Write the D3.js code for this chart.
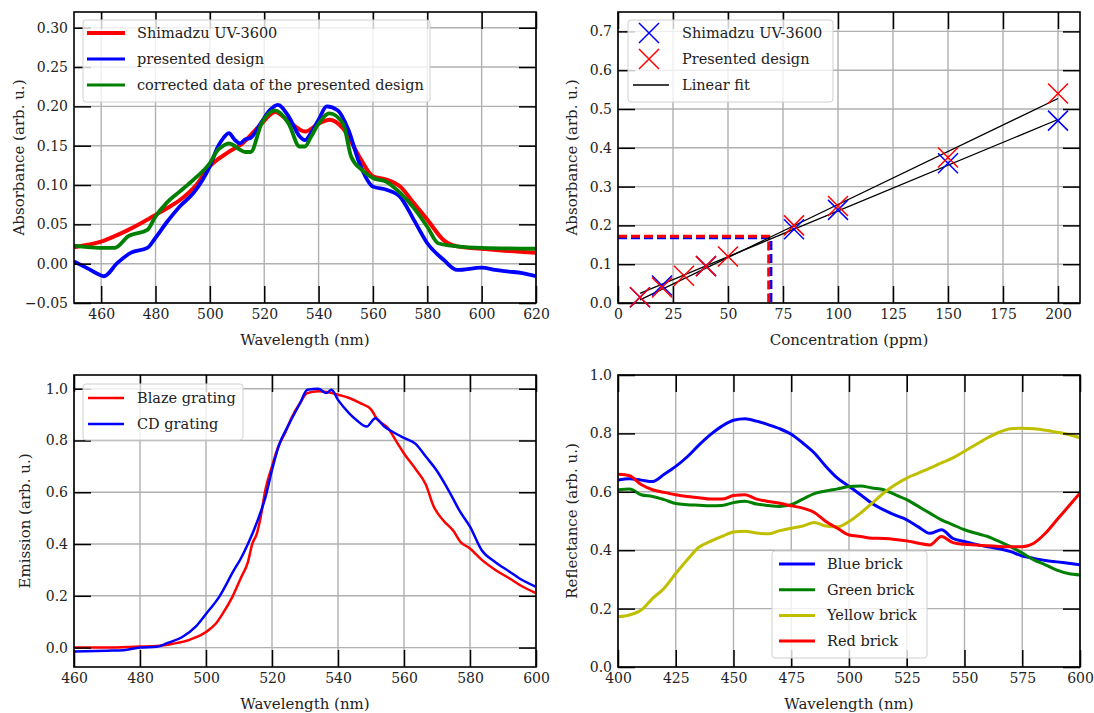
<!DOCTYPE html>
<html>
<head>
<meta charset="utf-8">
<script src="https://cdn.jsdelivr.net/npm/d3@7"></script>
<style>
  body { margin: 0; background: #fff; }
  svg text { font-family: "DejaVu Serif", "Liberation Serif", "Times New Roman", serif; }
</style>
</head>
<body>
<svg id="fig" width="1094" height="713"></svg>
<script>
// ---- panel (a): absorbance spectra ----
const absWlRed = [450, 455, 460, 465, 470, 475, 480, 485, 489, 495, 500, 506, 512, 519, 524, 529, 535, 540, 544, 549, 555, 560, 565, 570, 575, 580, 586, 591, 600, 610, 620];
const absRed = [0.021, 0.024, 0.028, 0.035, 0.043, 0.052, 0.062, 0.072, 0.081, 0.100, 0.124, 0.140, 0.153, 0.178, 0.193, 0.181, 0.168, 0.178, 0.183, 0.172, 0.136, 0.111, 0.107, 0.098, 0.077, 0.056, 0.030, 0.022, 0.019, 0.016, 0.014];
const absWlBlue = [450, 455, 460, 461, 466, 471, 477, 480, 484, 489, 494, 500, 503, 505, 507, 509, 511, 513, 515, 519, 522, 525, 529, 533, 535, 537, 540, 543, 547, 551, 555, 560, 565, 570, 575, 580, 586, 591, 600, 605, 610, 615, 620];
const absBlue = [0.003, -0.006, -0.015, -0.016, 0.001, 0.014, 0.020, 0.033, 0.052, 0.073, 0.090, 0.124, 0.149, 0.160, 0.166, 0.158, 0.153, 0.158, 0.160, 0.180, 0.195, 0.202, 0.187, 0.162, 0.157, 0.165, 0.183, 0.200, 0.195, 0.170, 0.128, 0.098, 0.094, 0.085, 0.056, 0.026, 0.005, -0.008, -0.005, -0.008, -0.010, -0.012, -0.016];
const absWlGreen = [450, 455, 460, 465, 470, 477, 480, 484, 489, 494, 500, 503, 505, 507, 509, 511, 513, 515, 519, 524, 529, 533, 535, 537, 540, 544, 549, 552, 556, 560, 565, 570, 575, 580, 584, 591, 600, 620];
const absGreen = [0.023, 0.021, 0.020, 0.020, 0.035, 0.043, 0.060, 0.077, 0.092, 0.107, 0.128, 0.145, 0.150, 0.153, 0.150, 0.145, 0.142, 0.142, 0.178, 0.195, 0.178, 0.149, 0.149, 0.160, 0.178, 0.191, 0.178, 0.136, 0.119, 0.109, 0.104, 0.090, 0.071, 0.047, 0.026, 0.022, 0.020, 0.019];

// ---- panel (b): calibration ----
const concShimadzu = [10, 20, 40, 80, 100, 150, 200];
const absShimadzu = [0.015, 0.045, 0.095, 0.19, 0.24, 0.36, 0.47];
const concDesign = [10, 20, 30, 40, 50, 80, 100, 150, 200];
const absDesign = [0.015, 0.04, 0.07, 0.095, 0.12, 0.20, 0.25, 0.375, 0.54];
const fitShimadzu = [[10, 0.025], [200, 0.473]];
const fitDesign = [[10, 0.008], [200, 0.527]];
const readBlue = [[0, 0.168], [69.5, 0.168], [69.5, 0]];
const readRed = [[0, 0.172], [68.5, 0.172], [68.5, 0]];

// ---- panel (c): emission ----
const emWlBlaze = [460, 470, 480, 485, 490, 495, 500, 503, 505, 508, 510.6, 512.7, 514, 515.4, 516.5, 518, 520, 522, 524, 526, 528.5, 530.7, 534, 537, 540, 543.4, 546.6, 550, 552, 555, 558, 560, 563.5, 566.6, 569, 572, 575, 577, 580, 583.5, 587.7, 592, 596, 600];
const emBlaze = [0.0, 0.0, 0.004, 0.006, 0.015, 0.03, 0.06, 0.093, 0.13, 0.196, 0.27, 0.33, 0.40, 0.44, 0.50, 0.61, 0.70, 0.78, 0.83, 0.89, 0.945, 0.983, 0.99, 0.986, 0.977, 0.964, 0.945, 0.92, 0.88, 0.85, 0.79, 0.75, 0.69, 0.63, 0.545, 0.49, 0.45, 0.41, 0.383, 0.34, 0.30, 0.267, 0.235, 0.21];
const emWlCD = [460, 470, 475, 480, 485, 488.4, 492.7, 496.8, 500, 504, 508.5, 510.6, 512.7, 515.9, 518, 520, 522, 525.3, 528.5, 530.7, 534, 536.5, 538, 540, 543.4, 545.5, 548.7, 551.3, 554, 557, 560, 563.5, 566.6, 569.8, 574, 577, 580, 583.5, 587.7, 592, 595, 600];
const emCD = [-0.015, -0.012, -0.01, 0.0, 0.003, 0.018, 0.04, 0.08, 0.13, 0.196, 0.30, 0.345, 0.40, 0.50, 0.58, 0.686, 0.777, 0.867, 0.944, 0.996, 1.0, 0.983, 0.996, 0.957, 0.905, 0.88, 0.854, 0.886, 0.854, 0.83, 0.81, 0.787, 0.738, 0.686, 0.596, 0.525, 0.467, 0.377, 0.33, 0.293, 0.267, 0.235];

// ---- panel (d): reflectance ----
const refWl = [400, 405, 410, 415, 420, 425, 430, 435, 440, 445, 450, 455, 460, 465, 470, 475, 480, 485, 490, 495, 500, 505, 510, 515, 520, 525, 530, 535, 540, 545, 550, 555, 560, 565, 570, 575, 580, 585, 590, 595, 600];
const refBlue = [0.64, 0.645, 0.64, 0.635, 0.66, 0.687, 0.72, 0.76, 0.796, 0.825, 0.845, 0.850, 0.842, 0.83, 0.816, 0.797, 0.767, 0.733, 0.687, 0.647, 0.619, 0.59, 0.56, 0.538, 0.52, 0.504, 0.48, 0.458, 0.47, 0.44, 0.43, 0.42, 0.412, 0.405, 0.395, 0.38, 0.372, 0.365, 0.36, 0.355, 0.35];
const refGreen = [0.607, 0.61, 0.59, 0.584, 0.573, 0.56, 0.556, 0.554, 0.552, 0.553, 0.563, 0.568, 0.558, 0.553, 0.55, 0.556, 0.575, 0.594, 0.603, 0.61, 0.618, 0.62, 0.613, 0.607, 0.59, 0.573, 0.55, 0.527, 0.504, 0.487, 0.47, 0.458, 0.447, 0.43, 0.412, 0.39, 0.367, 0.35, 0.332, 0.32, 0.315];
const refYellow = [0.172, 0.178, 0.195, 0.235, 0.27, 0.32, 0.367, 0.41, 0.43, 0.447, 0.462, 0.465, 0.459, 0.456, 0.467, 0.475, 0.483, 0.495, 0.483, 0.48, 0.498, 0.527, 0.561, 0.596, 0.624, 0.647, 0.664, 0.681, 0.699, 0.716, 0.739, 0.762, 0.785, 0.804, 0.816, 0.818, 0.816, 0.811, 0.804, 0.796, 0.785];
const refRed = [0.66, 0.655, 0.625, 0.607, 0.598, 0.59, 0.584, 0.58, 0.575, 0.575, 0.587, 0.59, 0.575, 0.567, 0.561, 0.552, 0.544, 0.529, 0.498, 0.475, 0.452, 0.447, 0.441, 0.44, 0.437, 0.432, 0.424, 0.418, 0.447, 0.426, 0.42, 0.418, 0.415, 0.413, 0.412, 0.412, 0.424, 0.458, 0.504, 0.55, 0.596];

const svg = d3.select("#fig");
const TICK = 17;
const FONT = "'DejaVu Serif', 'Liberation Serif', serif";

function panel(id, box, xDom, yDom, xTicks, yTicks, xFmt, yFmt, xLabel, yLabel, yLabelX) {
    const x = d3.scaleLinear().domain(xDom).range([box.x0, box.x1]);
    const y = d3.scaleLinear().domain(yDom).range([box.y1, box.y0]);
    const g = svg.append("g");
    const w = box.x1 - box.x0, h = box.y1 - box.y0;

    svg.append("clipPath").attr("id", "clip" + id)
        .append("rect").attr("x", box.x0).attr("y", box.y0).attr("width", w).attr("height", h);

    // grid
    const grid = g.append("g").attr("class", "grid");
    grid.selectAll("line.gx").data(xTicks).enter().append("line")
        .attr("x1", d => x(d)).attr("x2", d => x(d))
        .attr("y1", box.y0).attr("y2", box.y1)
        .attr("stroke", "#b0b0b0").attr("stroke-width", 1.4);
    grid.selectAll("line.gy").data(yTicks).enter().append("line")
        .attr("y1", d => y(d)).attr("y2", d => y(d))
        .attr("x1", box.x0).attr("x2", box.x1)
        .attr("stroke", "#b0b0b0").attr("stroke-width", 1.4);

    const plot = g.append("g").attr("clip-path", `url(#clip${id})`);

    const axes = g.append("g").attr("class", "axes");
    const styleAxis = sel => {
        sel.attr("font-family", FONT);
        sel.select(".domain").remove();
        sel.selectAll(".tick line").attr("stroke", "#000").attr("stroke-width", 1.5);
        sel.selectAll(".tick text").attr("fill", "#222").attr("font-size", 14)
            .attr("font-family", FONT);
    };
    axes.append("g").attr("transform", `translate(0,${box.y1})`)
        .call(d3.axisBottom(x).tickValues(xTicks).tickSize(-TICK).tickPadding(6).tickFormat(xFmt))
        .call(styleAxis);
    axes.append("g").attr("transform", `translate(0,${box.y0})`)
        .call(d3.axisTop(x).tickValues(xTicks).tickSize(-TICK).tickFormat(""))
        .call(styleAxis);
    axes.append("g").attr("transform", `translate(${box.x0},0)`)
        .call(d3.axisLeft(y).tickValues(yTicks).tickSize(-TICK).tickPadding(6).tickFormat(yFmt))
        .call(styleAxis);
    axes.append("g").attr("transform", `translate(${box.x1},0)`)
        .call(d3.axisRight(y).tickValues(yTicks).tickSize(-TICK).tickFormat(""))
        .call(styleAxis);

    axes.append("rect").attr("x", box.x0).attr("y", box.y0).attr("width", w).attr("height", h)
        .attr("fill", "none").attr("stroke", "#000").attr("stroke-width", 1.6);

    axes.append("text")
        .attr("x", (box.x0 + box.x1) / 2).attr("y", box.y1 + 42)
        .attr("text-anchor", "middle").attr("fill", "#222")
        .attr("font-family", FONT).attr("font-size", 15).text(xLabel);
    axes.append("text")
        .attr("transform", `translate(${yLabelX},${(box.y0 + box.y1) / 2}) rotate(-90)`)
        .attr("text-anchor", "middle").attr("fill", "#222")
        .attr("font-family", FONT).attr("font-size", 15).text(yLabel);

    return { x, y, plot, g };
}

function curve(p, xs, ys, color, width) {
    const line = d3.line().curve(d3.curveMonotoneX)
        .x((d, i) => p.x(xs[i])).y(d => p.y(d));
    p.plot.append("path").datum(ys)
        .attr("d", line)
        .attr("fill", "none").attr("stroke", color)
        .attr("stroke-width", width).attr("stroke-linejoin", "round");
}

function legend(box, rows) {
    const lg = svg.append("g");
    lg.append("rect")
        .attr("x", box.x).attr("y", box.y).attr("width", box.w).attr("height", box.h)
        .attr("rx", 3).attr("fill", "#fff").attr("fill-opacity", 0.8)
        .attr("stroke", "#d0d0d0").attr("stroke-width", 1);
    rows.forEach((r, i) => {
        const cy = box.y + box.first + i * box.step;
        if (r.marker) {
            const cx = box.hx + 16, s = 10;
            lg.append("path")
                .attr("d", `M${cx - s},${cy - s}L${cx + s},${cy + s}M${cx - s},${cy + s}L${cx + s},${cy - s}`)
                .attr("stroke", r.color).attr("stroke-width", 1.5);
        } else {
            lg.append("line").attr("x1", box.hx).attr("x2", box.hx + box.hl)
                .attr("y1", cy).attr("y2", cy)
                .attr("stroke", r.color).attr("stroke-width", r.width);
        }
        lg.append("text").attr("x", box.tx).attr("y", cy + 5)
            .attr("fill", "#222").attr("font-family", FONT).attr("font-size", 14.5).text(r.label);
    });
}

const fmt = d => d < 0 ? "\u2212" + d3.format(".2f")(-d) : d3.format(".2f")(d);
const f1 = d3.format(".1f");
const fi = d3.format("d");

// (a)
const pA = panel("a", { x0: 74, x1: 536, y0: 12, y1: 303 }, [450, 620], [-0.05, 0.32],
    d3.range(460, 621, 20), d3.range(-0.05, 0.301, 0.05).map(v => +v.toFixed(2)), fi, fmt,
    "Wavelength (nm)", "Absorbance (arb. u.)", 24);
curve(pA, absWlRed, absRed, "#ff0000", 4);
curve(pA, absWlBlue, absBlue, "#0000ff", 3.8);
curve(pA, absWlGreen, absGreen, "#008000", 3.8);
legend({ x: 83, y: 20, w: 347, h: 82, first: 13, step: 26, hx: 87, hl: 38, tx: 137 }, [
    { label: "Shimadzu UV-3600", color: "#ff0000", width: 4 },
    { label: "presented design", color: "#0000ff", width: 3 },
    { label: "corrected data of the presented design", color: "#008000", width: 3 }
]);

// (b)
const pB = panel("b", { x0: 618, x1: 1080, y0: 12, y1: 303 }, [0, 210], [0, 0.75],
    d3.range(0, 201, 25), d3.range(0, 0.71, 0.1).map(v => +v.toFixed(1)), fi, f1,
    "Concentration (ppm)", "Absorbance (arb. u.)", 577);
const fitLine = d3.line().x(d => pB.x(d[0])).y(d => pB.y(d[1]));
pB.plot.append("path").datum(readBlue).attr("d", fitLine).attr("fill", "none")
    .attr("stroke", "#0000ff").attr("stroke-width", 3).attr("stroke-dasharray", "9,4");
pB.plot.append("path").datum(readRed).attr("d", fitLine).attr("fill", "none")
    .attr("stroke", "#ff0000").attr("stroke-width", 3).attr("stroke-dasharray", "9,4");
[fitShimadzu, fitDesign].forEach(f => {
    pB.plot.append("path").datum(f).attr("d", fitLine).attr("fill", "none")
        .attr("stroke", "#000").attr("stroke-width", 1.3);
});
function crosses(xs, ys, color) {
    const s = 10;
    pB.g.append("g").selectAll("path").data(xs).enter().append("path")
        .attr("d", (d, i) => {
            const cx = pB.x(d), cy = pB.y(ys[i]);
            return `M${cx - s},${cy - s}L${cx + s},${cy + s}M${cx - s},${cy + s}L${cx + s},${cy - s}`;
        })
        .attr("stroke", color).attr("stroke-width", 1.5).attr("fill", "none");
}
crosses(concShimadzu, absShimadzu, "#0000ff");
crosses(concDesign, absDesign, "#ff0000");
legend({ x: 628, y: 20, w: 205, h: 82, first: 13, step: 26, hx: 633, hl: 36, tx: 682 }, [
    { label: "Shimadzu UV-3600", color: "#0000ff", marker: true },
    { label: "Presented design", color: "#ff0000", marker: true },
    { label: "Linear fit", color: "#000", width: 1.5 }
]);

// (c)
const pC = panel("c", { x0: 74, x1: 536, y0: 375, y1: 667 }, [460, 600], [-0.075, 1.053],
    d3.range(460, 601, 20), d3.range(0, 1.01, 0.2).map(v => +v.toFixed(1)), fi, f1,
    "Wavelength (nm)", "Emission (arb. u.)", 30);
curve(pC, emWlBlaze, emBlaze, "#ff0000", 2.5);
curve(pC, emWlCD, emCD, "#0000ff", 2.5);
legend({ x: 83, y: 384, w: 160, h: 56, first: 14, step: 26, hx: 88, hl: 36, tx: 137 }, [
    { label: "Blaze grating", color: "#ff0000", width: 2.5 },
    { label: "CD grating", color: "#0000ff", width: 2.5 }
]);

// (d)
const pD = panel("d", { x0: 618, x1: 1080, y0: 375, y1: 667 }, [400, 600], [0, 1.0],
    d3.range(400, 601, 25), d3.range(0, 1.01, 0.2).map(v => +v.toFixed(1)), fi, f1,
    "Wavelength (nm)", "Reflectance (arb. u.)", 577);
curve(pD, refWl, refBlue, "#0000ff", 3);
curve(pD, refWl, refGreen, "#008000", 3);
curve(pD, refWl, refYellow, "#bfbf00", 3);
curve(pD, refWl, refRed, "#ff0000", 3);
legend({ x: 772, y: 551, w: 155, h: 107, first: 13, step: 25.7, hx: 779, hl: 36, tx: 827 }, [
    { label: "Blue brick", color: "#0000ff", width: 3 },
    { label: "Green brick", color: "#008000", width: 3 },
    { label: "Yellow brick", color: "#bfbf00", width: 3 },
    { label: "Red brick", color: "#ff0000", width: 3 }
]);
</script>
</body>
</html>
